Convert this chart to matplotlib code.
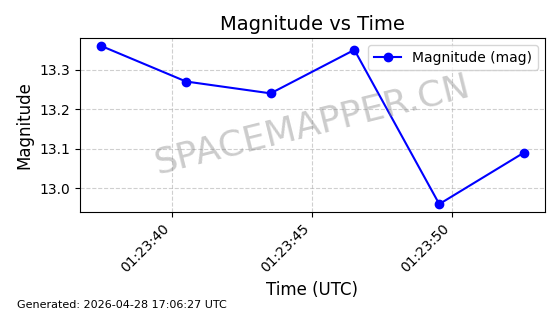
import matplotlib
matplotlib.use("Agg")
import matplotlib.pyplot as plt
import matplotlib.dates as mdates
import pandas as pd

times = ["2026-04-28 01:23:37.47", "2026-04-28 01:23:40.50", "2026-04-28 01:23:43.52",
         "2026-04-28 01:23:46.51", "2026-04-28 01:23:49.54", "2026-04-28 01:23:52.56"]
magnitudes = [13.36, 13.27, 13.24, 13.35, 12.96, 13.09]

t = pd.to_datetime(times)

fig = plt.figure(figsize=(5.6, 3.14), dpi=100)
ax = fig.add_axes([80/560, 1-212/314, (545-80)/560, (212-38)/314])
ax.plot(t, magnitudes, marker='o', color='blue', label='Magnitude (mag)')
ax.set_title('Magnitude vs Time', fontsize=14)
ax.set_xlabel('Time (UTC)', fontsize=12)
ax.set_ylabel('Magnitude', fontsize=12)
ax.grid(True, linestyle='--', alpha=0.6)
ax.legend(loc='upper right')
ax.xaxis.set_major_locator(mdates.SecondLocator(bysecond=range(0, 60, 5)))
ax.xaxis.set_major_formatter(mdates.DateFormatter('%H:%M:%S'))
plt.setp(ax.get_xticklabels(), rotation=45, ha='right')
ax.text(0.5, 0.5, 'SPACEMAPPER.CN', transform=ax.transAxes, fontsize=26,
        color='gray', alpha=0.4, rotation=14, ha='center', va='center')
fig.text(17/560, 1-305/314, 'Generated: 2026-04-28 17:06:27 UTC', fontsize=8, va='center')
fig.savefig('out.png', dpi=100)
